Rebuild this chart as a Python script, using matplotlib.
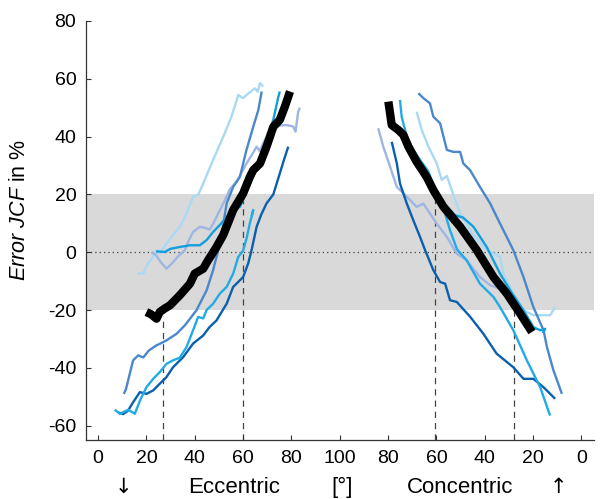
import matplotlib
matplotlib.use("Agg")
import matplotlib.pyplot as plt

plt.rcParams['font.family'] = ['Liberation Sans', 'DejaVu Sans']
plt.rcParams['mathtext.fontset'] = 'custom'
plt.rcParams['mathtext.it'] = 'Liberation Sans:italic'
plt.rcParams['mathtext.rm'] = 'Liberation Sans'
plt.rcParams['axes.unicode_minus'] = False

# eccentric side: knee angle in degrees, error in %
ecc_lightblue_x = [16.2, 18.7, 20.5, 22.8, 24.3, 25.5, 28.3, 30.4, 33.8, 36.6, 39.3, 41.4, 43.5, 47.6, 51.8, 55.2, 58, 60, 62.1, 64.9, 66, 67, 68.3]
ecc_lightblue_y = [-7.4, -7.4, -4, -1.6, 0.7, -0.5, 3, 5.3, 8.8, 13.4, 19.2, 19.8, 23.8, 31.9, 40, 46.9, 54.4, 53.3, 54.9, 56.7, 55.5, 58.5, 57.3]
ecc_lavender_x = [22, 24, 26, 28.3, 31, 33, 35.9, 37.5, 39.3, 42.1, 44, 46.2, 48, 50.4, 52.5, 54.5, 57.3, 59, 61.4, 63.5, 65.6, 66.9, 68.5, 70.5, 72.5, 75, 78, 80.7, 81.7, 82.8, 83.5]
ecc_lavender_y = [0, -1, -3.5, -5.7, -3.5, -1.5, 0.7, 4, 7, 8.8, 8.5, 7.8, 10.5, 14.6, 18, 21.8, 24.4, 27, 30.7, 33.5, 36.5, 35, 38, 41, 43.5, 43.8, 44, 43.5, 41.7, 48.6, 50]
ecc_steel_x = [10.6, 11.5, 14.5, 16.6, 18.7, 21, 24.2, 26, 28.3, 32.5, 35.9, 40.7, 44.9, 47.6, 49.7, 51.5, 53.2, 55.9, 58.7, 61.4, 64.2, 66.3, 67.7]
ecc_steel_y = [-49, -47.5, -37.4, -35.7, -36.4, -34, -32.2, -31.5, -30.5, -28.2, -25.3, -20.1, -13.2, -6.2, 0.7, 8, 16.9, 22.6, 26.1, 35.4, 43.4, 49.2, 55.6]
ecc_cyan_x = [6.9, 9, 12.5, 15.2, 17.5, 20, 22.8, 25.5, 28.3, 31, 33.8, 36.6, 39.3, 41.4, 43.5, 44.9, 47.6, 50.4, 53.2, 55.9, 58, 60, 61.5, 62.8, 64.2, 63.6]
ecc_cyan_y = [-54.5, -55.9, -54.5, -55.9, -51, -46.7, -43.8, -41.5, -38.6, -37.4, -36.5, -32.8, -27, -22.4, -22.9, -20, -17.8, -14.3, -12, -7.4, -1.6, 0.5, 5, 10, 14.6, 12.5]
ecc_cyan2_x = [24, 27.6, 30, 33.8, 38, 42.1, 44.9, 47.6, 51, 54, 56.5, 58.7, 63, 66, 69.7, 72.5, 74.5, 75.2]
ecc_cyan2_y = [0.3, 0.1, 1.2, 1.8, 2.4, 2.4, 4.2, 7, 10, 13, 15, 15.7, 24, 30, 38.8, 45.8, 53.5, 55.6]
ecc_dark_x = [8.3, 10.4, 12.4, 14.5, 17.3, 20, 22.8, 24.8, 28.3, 31, 35.2, 39.3, 43.5, 46, 49, 53.2, 55.9, 60, 62.1, 63.5, 65.6, 67.5, 69.7, 72.5, 75.2, 77.3, 78.7]
ecc_dark_y = [-55.4, -56, -54.8, -51.9, -48.4, -49, -47.8, -46.1, -43.2, -39.8, -36.3, -31.6, -28.8, -26, -23.6, -17.8, -12, -8.6, -3.9, 0.7, 8.8, 13, 16.9, 20, 27.3, 33, 36.5]
ecc_mean_x = [20, 22, 24.2, 25.5, 27.5, 29.7, 33.8, 38, 40, 43.5, 45.5, 49, 51.8, 55.9, 60, 62.8, 64.2, 67, 69.7, 72.5, 75.2, 77.3, 79.4]
ecc_mean_y = [-20.7, -21.5, -23, -20.7, -19.5, -18.4, -14.9, -10.9, -7.4, -5.7, -2.8, 1.8, 6, 14.6, 20.3, 26.1, 28.4, 30.7, 36.5, 43.4, 45.8, 50.4, 55.6]

# concentric side: knee angle in degrees, error in %
con_lightblue_x = [68.2, 66.1, 63.3, 59.9, 57.8, 55.7, 53.7, 50.2, 44.7, 39.2, 33.7, 32.3, 28.2, 24, 19.9, 13, 10.9]
con_lightblue_y = [48.6, 42.3, 36.5, 30.7, 25, 26.4, 21.5, 13.4, 5.8, 0.7, -1.6, -7.4, -14.3, -20.1, -21.8, -21.8, -19]
con_lavender_x = [84.1, 82, 79.2, 76.4, 72.3, 68.2, 65.4, 62.7, 59.9, 55.7, 51.6, 47.5, 42, 37.8, 33.7]
con_lavender_y = [42.9, 36.5, 29.6, 22.6, 19.2, 15.7, 16.8, 13.4, 9.9, 5.3, -0.5, -2.8, -8.6, -11.4, -12.6]
con_steel_x = [67.5, 65.4, 62.7, 61.3, 58.5, 55.7, 53, 50.2, 48.9, 46.1, 42, 37.8, 33.7, 32.3, 28.2, 24, 19.9, 15.7, 14.3, 11.6, 8.1]
con_steel_y = [55, 53.3, 51.5, 46.9, 44.6, 35.4, 34.7, 34.7, 30.7, 28.4, 22.6, 16.9, 9.9, 7.6, 0.7, -8.6, -19, -27, -32.8, -40.9, -49]
con_cyan_x = [75.1, 74.4, 72.3, 69.6, 66, 63.4, 60.5, 57, 54.4, 51.5, 47.5, 42, 36.4, 33.7, 28.2, 22.6, 17.1, 13]
con_cyan_y = [52.7, 46.9, 40, 35.4, 31, 28, 21.5, 15, 7.6, 1, -2.8, -10.9, -15.5, -19, -27, -37.4, -46.7, -56.5]
con_cyan2_x = [62, 56, 52.3, 49, 44.7, 39.2, 33.7, 29.5, 24, 19.9, 17.1, 15, 16]
con_cyan2_y = [22, 16, 12.8, 12, 8.8, 1.8, -7.4, -13.2, -20.1, -25.9, -27, -26.5, -28]
con_dark_x = [78.5, 76.4, 75.1, 72.3, 69.6, 66.8, 64.7, 61.3, 58.5, 56.4, 54.4, 51.6, 46, 40.6, 35.1, 28.2, 24, 19.9, 15.7, 10.9]
con_dark_y = [38.2, 30.7, 23.8, 16.9, 11.1, 5.3, 0.7, -6.2, -10.3, -10.9, -16.6, -17.2, -22.4, -28.2, -35.1, -39.8, -43.8, -43.8, -46.7, -50.7]
con_mean_x = [79.9, 78.5, 75.8, 73.7, 71.6, 68.2, 64.1, 61.3, 57.1, 50.2, 43.3, 36.4, 30.9, 25.4, 20.5]
con_mean_y = [52.1, 44, 42.3, 40.6, 36.5, 31.3, 26.1, 21.5, 15.7, 8.8, 0.7, -8.6, -14.3, -21.2, -27.6]

# vertical markers (angle, top of line)
ecc_marks = [(26.8, -22), (60, 18)]
con_marks = [(60.5, 18), (27.8, -20)]

xtick_pos = [0, 20, 40, 60, 80, 100, 120, 140, 160, 180, 200]
xtick_labels = ['0', '20', '40', '60', '80', '100', '80', '60', '40', '20', '0']

colors = {
    'lightblue': '#a9d9f4',
    'lavender': '#9fb5e2',
    'steel': '#4a88cb',
    'cyan': '#22aae6',
    'cyan2': '#139fdc',
    'dark': '#0a60ae',
}

fig = plt.figure(figsize=(6, 4.99), dpi=100)
ax = fig.add_axes([0.1433, 0.118, 0.846, 0.84])

ax.axhspan(-20, 20, color='#d9d9d9', lw=0, zorder=0)
ax.axhline(0, color='#444444', lw=0.9, ls=(0, (1, 2.5)), zorder=1)

for x, top in ecc_marks:
    ax.plot([x, x], [-65, top], color='#444444', lw=0.9, ls=(0, (5, 4)), zorder=1)
for a, top in con_marks:
    ax.plot([200 - a, 200 - a], [-65, top], color='#444444', lw=0.9, ls=(0, (5, 4)), zorder=1)

ecc = [(ecc_lightblue_x, ecc_lightblue_y, 'lightblue'),
       (ecc_lavender_x, ecc_lavender_y, 'lavender'),
       (ecc_steel_x, ecc_steel_y, 'steel'),
       (ecc_dark_x, ecc_dark_y, 'dark'),
       (ecc_cyan_x, ecc_cyan_y, 'cyan'),
       (ecc_cyan2_x, ecc_cyan2_y, 'cyan2')]
con = [(con_lightblue_x, con_lightblue_y, 'lightblue'),
       (con_lavender_x, con_lavender_y, 'lavender'),
       (con_steel_x, con_steel_y, 'steel'),
       (con_dark_x, con_dark_y, 'dark'),
       (con_cyan_x, con_cyan_y, 'cyan'),
       (con_cyan2_x, con_cyan2_y, 'cyan2')]

for xs, ys, c in ecc:
    ax.plot(xs, ys, color=colors[c], lw=1.7, zorder=2, solid_capstyle='butt')
for xs, ys, c in con:
    ax.plot([200 - v for v in xs], ys, color=colors[c], lw=1.7, zorder=2, solid_capstyle='butt')

ax.plot(ecc_mean_x, ecc_mean_y, color='black', lw=6, zorder=3, solid_capstyle='butt')
ax.plot([200 - v for v in con_mean_x], con_mean_y, color='black', lw=6, zorder=3, solid_capstyle='butt')

ax.set_xlim(-5, 205)
ax.set_ylim(-65, 80)
ax.set_xticks(xtick_pos)
ax.set_xticklabels(xtick_labels)
ax.set_yticks(range(-60, 81, 20))
ax.tick_params(direction='in', length=3.5, width=0.8, color='#333333', labelsize=14, pad=7)

for s in ['top', 'right']:
    ax.spines[s].set_visible(False)
for s in ['left', 'bottom']:
    ax.spines[s].set_color('#333333')
    ax.spines[s].set_linewidth(0.9)

ax.set_ylabel(r'$\mathit{Error\ JCF}$ in %', fontsize=15.5, labelpad=6)
ax.yaxis.set_label_coords(-0.11, 0.55)

tr = ax.get_xaxis_transform()
ax.text(10.7, -0.112, '\u2193', transform=tr, ha='center', va='center', fontsize=15, family=['DejaVu Sans'])
ax.text(56.2, -0.112, 'Eccentric', transform=tr, ha='center', va='center', fontsize=16)
ax.text(100.9, -0.112, '[°]', transform=tr, ha='center', va='center', fontsize=16)
ax.text(149.8, -0.112, 'Concentric', transform=tr, ha='center', va='center', fontsize=16)
ax.text(190.3, -0.112, '\u2191', transform=tr, ha='center', va='center', fontsize=15, family=['DejaVu Sans'])

fig.savefig('out.png', dpi=100)
